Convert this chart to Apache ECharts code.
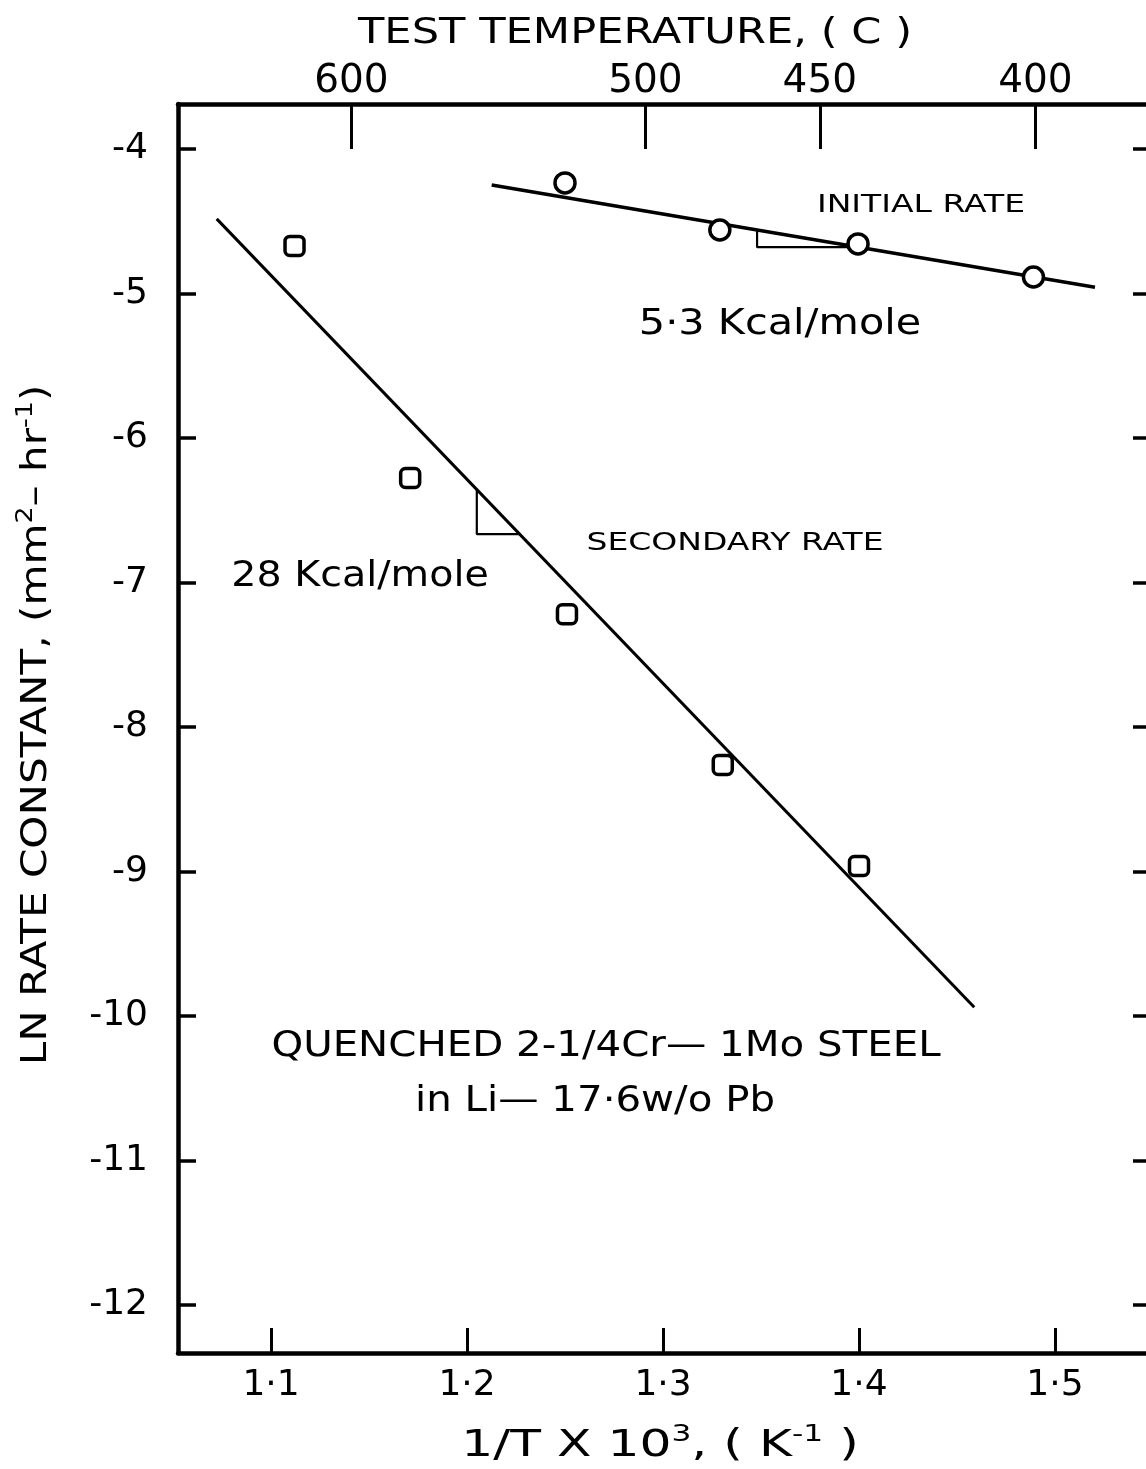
<!DOCTYPE html>
<html>
<head>
<meta charset="utf-8">
<title>LN rate constant vs 1/T</title>
<script src="https://cdn.jsdelivr.net/npm/echarts@6/dist/echarts.min.js"></script>
<style>
  html, body { margin: 0; padding: 0; background: #fff; }
  #chart { width: 1146px; height: 1469px; }
</style>
</head>
<body>
<div id="chart"></div>
<script>
// Bottom axis: 1/T x 10^3 (K^-1)
const xTicks = [1.1, 1.2, 1.3, 1.4, 1.5];
// Left axis: ln of rate constant
const yTicks = [-4, -5, -6, -7, -8, -9, -10, -11, -12];
// Top axis: test temperature (C) and where each tick sits on the 1/T scale
const tempLabels = ['600', '500', '450', '400'];
const tempTickPos = [1.141, 1.291, 1.380, 1.490];

// Measured rate constants [1/T x 10^3, ln k]
const initialRate = [[1.250, -4.235], [1.329, -4.561], [1.3995, -4.657], [1.489, -4.886]];
const secondaryRate = [[1.112, -4.671], [1.171, -6.277], [1.251, -7.220], [1.3305, -8.263], [1.400, -8.962]];

// Arrhenius fit lines (end points)
const initialFit = [[1.2126, -4.249], [1.5204, -4.957]];
const secondaryFit = [[1.0723, -4.484], [1.4588, -9.940]];

// Slope triangles under each fit line
const initialSlope = [[1.348, -4.56], [1.348, -4.68], [1.399, -4.68]];
const secondarySlope = [[1.205, -6.36], [1.205, -6.665], [1.227, -6.665]];

const FONT = 'DejaVu Sans';
const INK = '#000';

const chart = echarts.init(document.getElementById('chart'), null, { renderer: 'canvas' });

const frameLine = { show: true, onZero: false, lineStyle: { color: INK, width: 4.5 } };

// Lettering-style text: widened glyph run, centred on (x, y)
function label(text, x, y, size, stretch, extra) {
  return {
    type: 'text', x: x, y: y, scaleX: stretch, scaleY: 1,
    style: Object.assign({
      text: text, fill: INK, fontFamily: FONT, fontSize: size,
      align: 'center', verticalAlign: 'middle'
    }, extra || {})
  };
}

const supRich = { sup: { fontFamily: FONT, fontSize: 23, verticalAlign: 'top', lineHeight: 30, fill: INK } };

const option = {
  backgroundColor: '#fff',
  animation: false,
  // the right-hand frame runs just past the canvas edge
  grid: { left: 178, top: 104, width: 975, height: 1249, containLabel: false, outerBoundsMode: 'none' },
  xAxis: [
    {
      type: 'value', position: 'bottom', min: 1.05255, max: 1.55,
      axisLine: frameLine,
      splitLine: { show: false },
      axisTick: { show: true, inside: true, length: 25, customValues: xTicks, lineStyle: { color: INK, width: 3 } },
      axisLabel: {
        customValues: xTicks, margin: 15, color: INK, fontFamily: FONT, fontSize: 36,
        formatter: v => v.toFixed(1).replace('.', '·')
      }
    },
    {
      type: 'value', position: 'top', min: 1.05255, max: 1.55,
      axisLine: frameLine,
      splitLine: { show: false },
      axisTick: { show: true, inside: true, length: 45, customValues: tempTickPos, lineStyle: { color: INK, width: 3 } },
      axisLabel: {
        customValues: tempTickPos, margin: 3, color: INK, fontFamily: FONT, fontSize: 39,
        formatter: v => {
          const i = tempTickPos.findIndex(p => Math.abs(p - v) < 1e-6);
          return i >= 0 ? tempLabels[i] : '';
        }
      }
    }
  ],
  yAxis: [
    {
      type: 'value', position: 'left', min: -12.332, max: -3.689,
      axisLine: frameLine,
      splitLine: { show: false },
      axisTick: { show: true, inside: true, length: 18, customValues: yTicks, lineStyle: { color: INK, width: 3.5 } },
      axisLabel: {
        customValues: yTicks, margin: 30, color: INK, fontFamily: FONT, fontSize: 36,
        formatter: v => String(Math.round(v))
      }
    },
    {
      type: 'value', position: 'right', min: -12.332, max: -3.689,
      axisLine: frameLine,
      splitLine: { show: false },
      axisTick: { show: true, inside: true, length: 20, customValues: yTicks, lineStyle: { color: INK, width: 3.5 } },
      axisLabel: { show: false }
    }
  ],
  series: [
    {
      name: 'initial fit', type: 'line', data: initialFit, symbol: 'none', z: 2,
      lineStyle: { color: INK, width: 3.5 }
    },
    {
      name: 'secondary fit', type: 'line', data: secondaryFit, symbol: 'none', z: 2,
      lineStyle: { color: INK, width: 3 }
    },
    {
      name: 'initial slope', type: 'line', data: initialSlope, symbol: 'none', z: 2,
      lineStyle: { color: INK, width: 2.2 }
    },
    {
      name: 'secondary slope', type: 'line', data: secondarySlope, symbol: 'none', z: 2,
      lineStyle: { color: INK, width: 2.2 }
    },
    {
      name: 'INITIAL RATE', type: 'scatter', data: initialRate, symbol: 'circle', symbolSize: 20, z: 5,
      itemStyle: { color: '#fff', borderColor: INK, borderWidth: 3.5, opacity: 1 }
    },
    {
      name: 'SECONDARY RATE', type: 'scatter', data: secondaryRate, symbol: 'roundRect', symbolSize: 19, z: 5,
      itemStyle: { color: '#fff', borderColor: INK, borderWidth: 3.5, opacity: 1 }
    }
  ],
  graphic: [
    label('TEST TEMPERATURE, ( C )', 635, 34, 36, 1.2),
    label('1/T X 10{sup|3}, ( K{sup|-1} )', 660, 1446, 37, 1.36, { lineHeight: 44, rich: supRich }),
    Object.assign(label('LN RATE CONSTANT, (mm{sup|2}– hr{sup|-1})', 37, 725, 36, 1.17,
      { lineHeight: 44, rich: supRich }), { rotation: Math.PI / 2 }),
    label('INITIAL RATE', 921, 205, 25, 1.32),
    label('5·3 Kcal/mole', 780, 325, 36, 1.15),
    label('SECONDARY RATE', 735, 543, 25, 1.32),
    label('28 Kcal/mole', 360, 577, 36, 1.1),
    label('QUENCHED 2-1/4Cr— 1Mo STEEL', 606, 1047, 36, 1.12),
    label('in Li— 17·6w/o Pb', 595, 1102, 36, 1.12)
  ]
};

chart.setOption(option);
</script>
</body>
</html>
